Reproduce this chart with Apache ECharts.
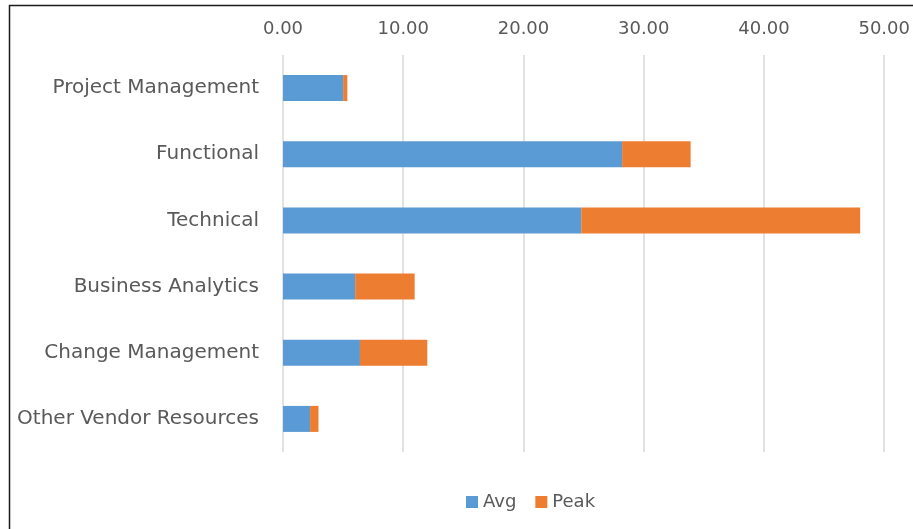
<!DOCTYPE html>
<html>
<head>
<meta charset="utf-8">
<script src="https://cdn.jsdelivr.net/npm/echarts@6/dist/echarts.min.js"></script>
<style>
  html, body { margin: 0; padding: 0; background: #fff; }
  #chart { width: 913px; height: 529px; }
</style>
</head>
<body>
<div id="chart"></div>
<script>
// Resource categories, top to bottom
const categories = [
  'Project Management',
  'Functional',
  'Technical',
  'Business Analytics',
  'Change Management',
  'Other Vendor Resources'
];
// Average headcount per category
const avgValues = [5.0, 28.2, 24.8, 6.0, 6.4, 2.25];
// Additional headcount at peak, stacked on top of the average
const peakValues = [0.35, 5.7, 23.2, 4.95, 5.6, 0.7];
// Value axis range and step
const axisMin = 0;
const axisMax = 50;
const axisStep = 10;

const FONT = 'DejaVu Sans';
const TEXT = '#595959';

const chart = echarts.init(document.getElementById('chart'), null, { renderer: 'canvas' });
chart.setOption({
  animation: false,
  backgroundColor: '#fff',
  graphic: [{
    type: 'rect',
    shape: { x: 9.5, y: 5.5, width: 1000, height: 1000 },
    style: { fill: 'none', stroke: '#1a1a1a', lineWidth: 1.5 },
    silent: true
  }],
  grid: { left: 283, right: 25, top: 55, bottom: 77, containLabel: false },
  legend: {
    bottom: 13,
    left: 461,
    itemWidth: 12,
    itemHeight: 12,
    itemGap: 19,
    icon: 'rect',
    textStyle: { color: TEXT, fontFamily: FONT, fontSize: 18 },
    data: ['Avg', 'Peak']
  },
  xAxis: {
    type: 'value',
    position: 'top',
    min: axisMin,
    max: axisMax,
    interval: axisStep,
    axisLine: { show: false },
    axisTick: { show: false },
    splitLine: { lineStyle: { color: '#d9d9d9', width: 1.5 } },
    axisLabel: {
      color: TEXT, fontFamily: FONT, fontSize: 18, margin: 17,
      formatter: v => v.toFixed(2)
    }
  },
  yAxis: {
    type: 'category',
    inverse: true,
    data: categories,
    axisLine: { show: false },
    axisTick: { show: false },
    axisLabel: { color: TEXT, fontFamily: FONT, fontSize: 20, margin: 24 }
  },
  series: [
    {
      name: 'Avg', type: 'bar', stack: 'total', barWidth: 26,
      itemStyle: { color: '#5B9BD5' },
      data: avgValues
    },
    {
      name: 'Peak', type: 'bar', stack: 'total', barWidth: 26,
      itemStyle: { color: '#ED7D31' },
      data: peakValues
    }
  ]
});
</script>
</body>
</html>
